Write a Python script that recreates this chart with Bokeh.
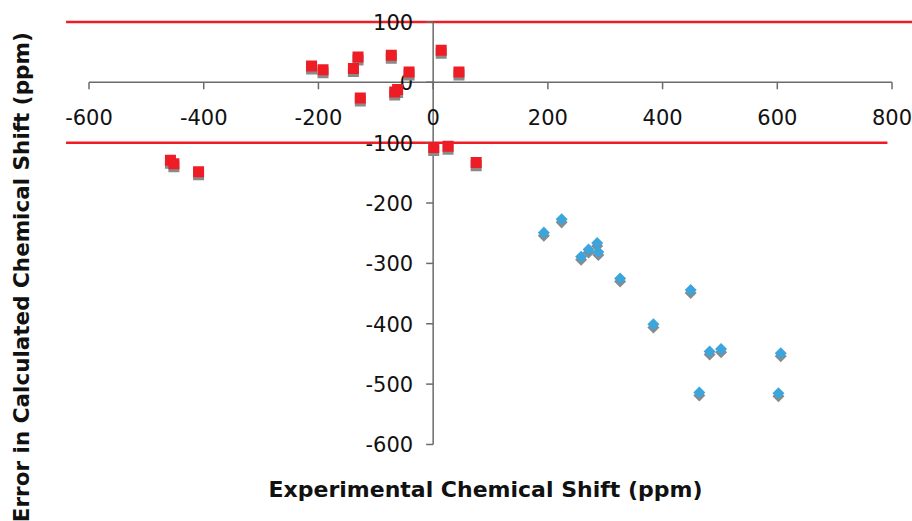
import math
from bokeh.plotting import figure
from bokeh.models import ColumnDataSource, Label
from bokeh.transform import dodge
from bokeh.core.properties import value
from bokeh.embed import file_html
from bokeh.resources import INLINE

# ---- data ----
red_x = [14, 45, -73, -42, -131, -139, -127, -62, -67, -212, -192, -458, -452, -409, 1, 26, 75]
red_y = [53, 17, 45, 17, 42, 23, -26, -12, -16, 27, 21, -129, -135, -148, -108, -106, -133]

blue_x = [193, 224, 258, 271, 286, 288, 326, 384, 449, 482, 502, 464, 606, 602]
blue_y = [-249, -227, -289, -277, -266, -281, -325, -401, -344, -446, -442, -514, -449, -515]

x_ticks = [-600, -400, -200, 0, 200, 400, 600, 800]
y_ticks = [100, 0, -100, -200, -300, -400, -500, -600]

limit_levels = [100, -100]
limit_x_start = [-640, -640]
limit_x_end = [850, 792]

x_title = "Experimental Chemical Shift (ppm)"
y_title = "Error in Calculated Chemical  Shift (ppm)"

# ---- figure geometry ----
W, H = 912, 521
X0, X1 = -754.3, 835.7
Y0, Y1 = -727.6, 135.6

p = figure(width=W, height=H, x_range=(X0, X1), y_range=(Y0, Y1),
           output_backend="svg", toolbar_location=None, min_border=0,
           x_axis_location=None, y_axis_location=None)
p.grid.visible = False
p.outline_line_color = None

def to_data(cx, cy):
    return (X0 + cx * (X1 - X0) / W, Y1 - cy * (Y1 - Y0) / H)

# limit lines
p.segment(x0=limit_x_start, y0=limit_levels, x1=limit_x_end, y1=limit_levels,
          line_color="#ee1c25", line_width=2.5)

# axes (drawn at x=0 and y=0)
axis_color = "#6b6b6b"
p.segment(x0=[min(x_ticks)], y0=[0], x1=[max(x_ticks)], y1=[0], line_color=axis_color, line_width=1.5)
p.segment(x0=[0], y0=[max(y_ticks)], x1=[0], y1=[min(y_ticks)], line_color=axis_color, line_width=1.5)
p.ray(x=x_ticks, y=[0] * len(x_ticks), length=7, length_units="screen", angle=-math.pi / 2,
      line_color=axis_color, line_width=1.5)
p.ray(x=[0] * len(y_ticks), y=y_ticks, length=7, length_units="screen", angle=math.pi,
      line_color=axis_color, line_width=1.5)

p.text(x=x_ticks, y=[0] * len(x_ticks), text=[str(t) for t in x_ticks], y_offset=35,
       text_align="center", text_baseline="middle", text_font=value("DejaVu Sans"),
       text_font_size="21px", text_color="#111111")
p.text(x=[0] * len(y_ticks), y=y_ticks, text=[str(t) for t in y_ticks], x_offset=-20,
       text_align="right", text_baseline="middle", text_font=value("DejaVu Sans"),
       text_font_size="21px", text_color="#111111")

# markers with shadows
red_src = ColumnDataSource(dict(x=red_x, y=red_y))
blue_src = ColumnDataSource(dict(x=blue_x, y=blue_y))

p.scatter(x="x", y=dodge("y", -5, range=p.y_range), source=red_src, marker="square",
          size=11, fill_color="#8a8a8a", line_color=None)
p.scatter(x="x", y="y", source=red_src, marker="square", size=11,
          fill_color="#ee1c25", line_color=None)

p.scatter(x="x", y=dodge("y", -5, range=p.y_range), source=blue_src, marker="square",
          size=8.5, angle=math.pi / 4, fill_color="#8a8a8a", line_color=None)
p.scatter(x="x", y="y", source=blue_src, marker="square", size=8.5, angle=math.pi / 4,
          fill_color="#3aa6dd", line_color=None)

# axis titles
tx, ty = to_data(485, 489)
p.add_layout(Label(x=tx, y=ty, text=x_title, text_align="center", text_baseline="middle",
                   text_font="DejaVu Sans", text_font_style="bold", text_font_size="22px",
                   text_color="#111111"))
yx, yy = to_data(21, 273)
p.add_layout(Label(x=yx, y=yy, text=y_title, angle=math.pi / 2, text_align="center",
                   text_baseline="middle", text_font="DejaVu Sans", text_font_style="bold",
                   text_font_size="21.5px", text_color="#111111"))

open("out.html", "w").write(file_html(p, INLINE))
